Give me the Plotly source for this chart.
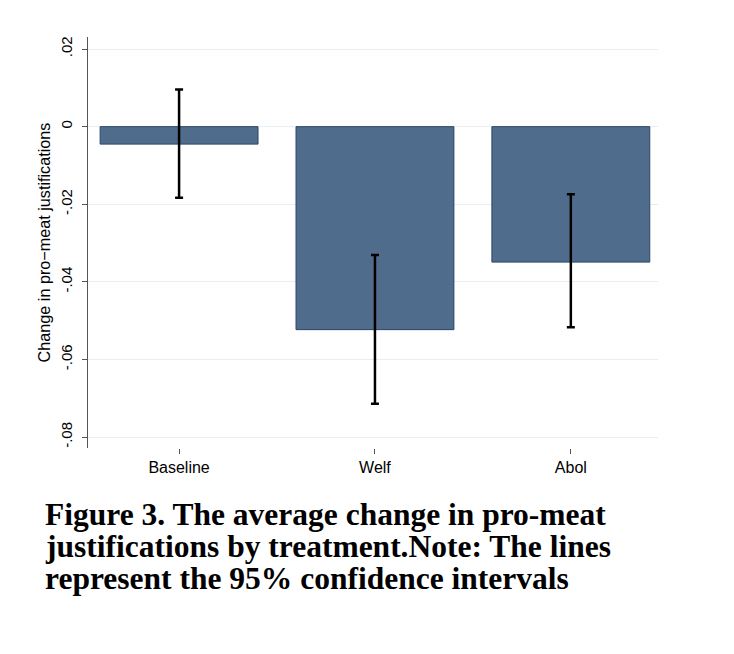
import plotly.graph_objects as go

categories = ["Baseline", "Welf", "Abol"]
means = [-0.0045, -0.0523, -0.0349]
ci_upper = [0.0096, -0.0331, -0.0174]
ci_lower = [-0.0183, -0.0714, -0.0517]

yticks = [0.02, 0, -0.02, -0.04, -0.06, -0.08]
ytick_text = [".02", "0", "-.02", "-.04", "-.06", "-.08"]

caption_lines = [
    "Figure 3. The average change in pro-meat",
    "justifications by treatment.Note: The lines",
    "represent the 95% confidence intervals",
]

err_plus = [u - m for u, m in zip(ci_upper, means)]
err_minus = [m - l for m, l in zip(means, ci_lower)]
x_pos = list(range(len(categories)))

fig = go.Figure()
fig.add_trace(go.Bar(
    x=x_pos, y=means, width=0.806,
    marker=dict(color="#506c8c", line=dict(color="#2a4663", width=1)),
    error_y=dict(type="data", symmetric=False, array=err_plus, arrayminus=err_minus,
                 color="black", thickness=2.5, width=4),
    showlegend=False,
))

# plot area in page pixels: x 88..658, y 37..448 (page has 8px body margin)
plot_top, plot_bottom, plot_left, plot_right = 37, 448, 88, 658
ph = plot_bottom - plot_top
pw = plot_right - plot_left

annotations = []
baselines = [524, 556, 588]
for line, base in zip(caption_lines, baselines):
    yc = base - 10
    annotations.append(dict(
        text="<b>" + line + "</b>",
        xref="paper", yref="paper",
        x=(43 - plot_left) / pw, y=(plot_bottom - yc) / ph,
        xanchor="left", yanchor="middle", align="left", showarrow=False,
        font=dict(family="Liberation Serif, Times New Roman, serif", size=31.5, color="black"),
    ))

fig.update_layout(
    width=734, height=654,
    margin=dict(l=80, r=84, t=29, b=214),
    paper_bgcolor="white", plot_bgcolor="white",
    font=dict(family="Liberation Sans, Arial, sans-serif", color="black", size=13),
    xaxis=dict(
        range=[-0.465, 2.445], tickvals=x_pos, ticktext=categories,
        showgrid=False, zeroline=False, showline=False,
        ticks="outside", ticklen=5, tickcolor="#555555", tickwidth=1,
        tickfont=dict(size=16),
    ),
    yaxis=dict(
        range=[-0.0828, 0.0231], tickvals=yticks, ticktext=ytick_text,
        tickangle=-90, showgrid=True, gridcolor="#e8eef0", gridwidth=1,
        zeroline=False, showline=True, linecolor="#555555", linewidth=1,
        ticks="outside", ticklen=5, tickcolor="#555555",
        tickfont=dict(size=15), ticklabelstandoff=4,
        title=dict(text="Change in pro\u2212meat justifications", font=dict(size=16.2), standoff=3),
    ),
    annotations=annotations,
)

fig.write_html("out.html")
